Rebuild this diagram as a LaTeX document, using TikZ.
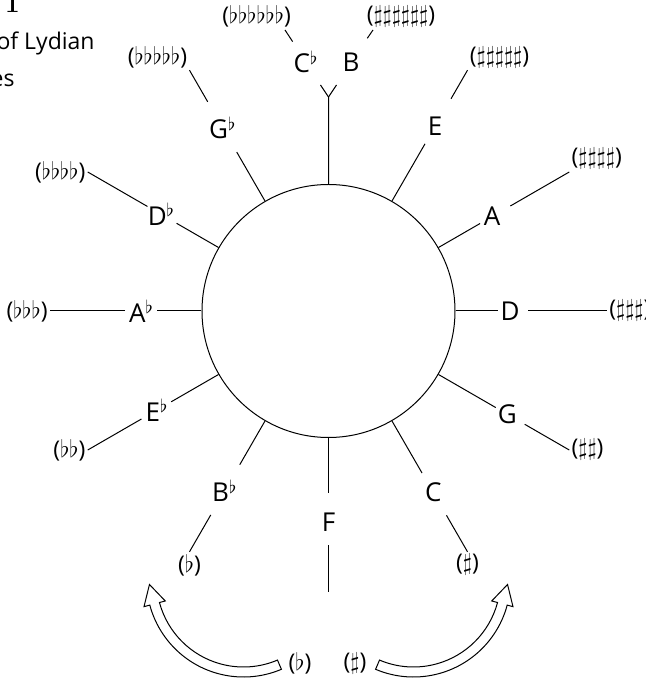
\documentclass[tikz,border=0pt]{standalone}
\usepackage{fontspec}
\setsansfont{Open Sans}
\renewcommand{\familydefault}{\sfdefault}
\usetikzlibrary{calc}
\tikzset{
 note/.style={
 font=\fontsize{13}{15}\selectfont,
 inner sep=1pt
 },
 keysig/.style={
 font=\fontsize{11.5}{13}\selectfont,
 inner sep=1pt
 },
 spoke/.style={line width=0.5pt},
 turnarrow/.style={line width=0.5pt, fill=white, line join=miter}
}

\begin{document}
\begin{tikzpicture}[x=0.5pt, y=0.5pt]
 \useasboundingbox (-328.5,-368) rectangle (316.5,311);
 \clip (-328.5,-368) rectangle (316.5,311);

 % caption remains at the top left
 \node[font=\rmfamily\bfseries\fontsize{13}{15}\selectfont, anchor=base, inner sep=0pt] (fignum) at (-316,298) {1};
 \node[font=\fontsize{11.5}{14}\selectfont, anchor=base east, inner sep=0pt] (capa) at (-233.5,261) {of Lydian};
 \node[font=\fontsize{11.5}{14}\selectfont, anchor=base east, inner sep=0pt] (capb) at (-313.5,224) {es};

 \node[circle, draw, spoke, minimum size=126.5pt, inner sep=0pt] (ring) at (0,0) {};

 % tonic letters
 \node[note] (nE) at (60:213) {E};
 \node[note] (nA) at (30:189) {A};
 \node[note] (nD) at (0:181.5) {D};
 \node[note] (nG) at (-30:206.5) {G};
 \node[note] (nC) at (-60:209.5) {C};
 \node[note] (nF) at (-90:211) {F};
 \node[note] (nBb) at (-120:207.5) {B$^\flat$};
 \node[note] (nEb) at (-150:198) {E$^\flat$};
 \node[note] (nAb) at (180:187) {A$^\flat$};
 \node[note] (nDb) at (150:193) {D$^\flat$};
 \node[note] (nGb) at (120:211.5) {G$^\flat$};
 \node[note] (nCb) at (-22.5,249) {C$^\flat$};
 \node[note] (nB) at (22.5,249) {B};

 % key signatures
 \node[keysig, anchor=south west] (sE) at (60:278) {($\sharp\sharp\sharp\sharp\sharp$)};
 \node[keysig, anchor=south west] (sA) at (30:278) {($\sharp\sharp\sharp\sharp$)};
 \node[keysig, anchor=west] (sD) at (0:278.5) {($\sharp\sharp\sharp$)};
 \node[keysig, anchor=west] (sG) at (-30:278) {($\sharp\sharp$)};
 \node[keysig, anchor=north] (sC) at (-60:278) {($\sharp$)};
 \node[keysig, anchor=north] (sBb) at (-120:278) {($\flat$)};
 \node[keysig, anchor=east] (sEb) at (-150:278) {($\flat\flat$)};
 \node[keysig, anchor=east] (sAb) at (180:278.5) {($\flat\flat\flat$)};
 \node[keysig, anchor=east] (sDb) at (150:278) {($\flat\flat\flat\flat$)};
 \node[keysig, anchor=south east] (sGb) at (120:278) {($\flat\flat\flat\flat\flat$)};
 \node[keysig, anchor=-25] (sCb) at (-43.5,281) {($\flat\flat\flat\flat\flat\flat$)};
 \node[keysig, anchor=205] (sB) at (44.5,281) {($\sharp\sharp\sharp\sharp\sharp\sharp$)};
 \coordinate (fEnd) at (-90:281);
 \coordinate (fork) at (90:214);
 \coordinate (forkL) at (-8,226);
 \coordinate (forkR) at (8,226);

 % spokes
 \draw[spoke, shorten >=10pt] (ring.60) -- (nE.center);
 \draw[spoke, shorten <=16pt] (nE.center) -- (sE.south west);
 \draw[spoke, shorten >=7pt] (ring.30) -- (nA.center);
 \draw[spoke, shorten <=10.5pt] (nA.center) -- (sA.south west);
 \draw[spoke, shorten >=6pt] (ring.0) -- (nD.center);
 \draw[spoke, shorten <=9pt] (nD.center) -- (sD.west);
 \draw[spoke, shorten >=6.7pt] (ring.-30) -- (nG.center);
 \draw[spoke, shorten <=10pt] (nG.center) -- (sG.west);
 \draw[spoke, shorten >=11.2pt] (ring.-60) -- (nC.center);
 \draw[spoke, shorten <=13.2pt] (nC.center) -- (sC.north);
 \draw[spoke, shorten >=14.5pt] (ring.-90) -- (nF.center);
 \draw[spoke, shorten <=11.5pt] (nF.center) -- (fEnd);
 \draw[spoke, shorten >=15pt] (ring.-120) -- (nBb.center);
 \draw[spoke, shorten <=14pt] (nBb.center) -- (sBb.north);
 \draw[spoke, shorten >=8.2pt] (ring.-150) -- (nEb.center);
 \draw[spoke, shorten <=9pt] (nEb.center) -- (sEb.east);
 \draw[spoke, shorten >=7.7pt] (ring.180) -- (nAb.center);
 \draw[spoke, shorten <=8.2pt] (nAb.center) -- (sAb.east);
 \draw[spoke, shorten >=8.8pt] (ring.150) -- (nDb.center);
 \draw[spoke, shorten <=8pt] (nDb.center) -- (sDb.east);
 \draw[spoke, shorten >=14pt] (ring.120) -- (nGb.center);
 \draw[spoke, shorten <=15pt] (nGb.center) -- (sGb.south east);
 \draw[spoke] (ring.90) -- (fork) -- (forkL);
 \draw[spoke] (fork) -- (forkR);
 \draw[spoke, shorten <=12.2pt] (nCb.center) -- (sCb.-25);
 \draw[spoke, shorten <=14.4pt] (nB.center) -- (sB.205);

 % direction arrows
 \node[keysig] (flatdir) at (-28.5,-352) {($\flat$)};
 \node[keysig] (sharpdir) at (26.5,-352) {($\sharp$)};
 \begin{scope}[shift={(-85,-269)}]
 \draw[turnarrow] (293:97) arc[start angle=293, end angle=195, radius=97] -- (195:103)
 -- ($(195:92)+(105:20)$) -- (195:81) -- (195:87)
 arc[start angle=195, end angle=293, radius=87] -- cycle;
 \end{scope}
 \begin{scope}[shift={(85,-269)}, xscale=-1]
 \draw[turnarrow] (293:97) arc[start angle=293, end angle=195, radius=97] -- (195:103)
 -- ($(195:92)+(105:20)$) -- (195:81) -- (195:87)
 arc[start angle=195, end angle=293, radius=87] -- cycle;
 \end{scope}
\end{tikzpicture}
\end{document}
